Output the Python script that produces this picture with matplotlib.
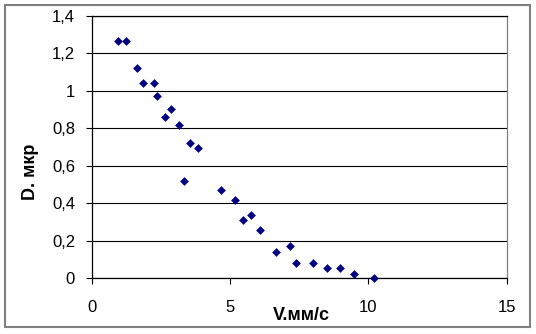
import matplotlib
matplotlib.use("Agg")
import matplotlib.pyplot as plt
from matplotlib.patches import Rectangle
from matplotlib.ticker import FuncFormatter

v_mm_s = [0.94, 1.25, 1.65, 1.85, 2.26, 2.36, 2.66, 2.86, 3.16, 3.35, 3.56, 3.85,
          4.67, 5.17, 5.47, 5.77, 6.07, 6.67, 7.17, 7.38, 7.99, 8.49, 8.98, 9.49, 10.19]
d_mkr = [1.265, 1.265, 1.12, 1.04, 1.04, 0.97, 0.86, 0.905, 0.815, 0.52, 0.72, 0.695,
         0.47, 0.415, 0.31, 0.335, 0.255, 0.14, 0.17, 0.08, 0.08, 0.055, 0.055, 0.02, 0.0]
x_ticks = [0, 5, 10, 15]
y_ticks = [0, 0.2, 0.4, 0.6, 0.8, 1.0, 1.2, 1.4]

plt.rcParams['font.family'] = ['Liberation Sans', 'DejaVu Sans']

fig = plt.figure(figsize=(5.36, 3.34), dpi=100)
W, H = 536, 334
ax = fig.add_axes([91.7 / W, 1 - 278.2 / H, (506.7 - 91.7) / W, (278.2 - 15.7) / H])

# outer frame
fig.patches.append(Rectangle((5 / W, 1 - 327 / H), (530 - 5) / W, (327 - 5) / H,
                             transform=fig.transFigure, fill=False,
                             edgecolor='#808080', linewidth=1.5))

ax.scatter(v_mm_s, d_mkr, marker='D', s=20, color='#000080', zorder=3, clip_on=False,
           linewidths=0)

ax.set_xlim(0, 15)
ax.set_ylim(0, 1.4)
ax.set_xticks(x_ticks)
ax.set_yticks(y_ticks)
ax.yaxis.set_major_formatter(FuncFormatter(lambda v, p: ('%g' % round(v, 1)).replace('.', ',')))
ax.xaxis.set_major_formatter(FuncFormatter(lambda v, p: '%g' % v))
ax.grid(axis='y', color='black', linewidth=0.8)
ax.set_axisbelow(True)

for s in ['left', 'bottom', 'top']:
    ax.spines[s].set_color('black')
    ax.spines[s].set_linewidth(0.9)
ax.spines['right'].set_color('#808080')
ax.spines['right'].set_linewidth(0.9)

ax.tick_params(axis='both', direction='out', length=4, width=0.8, color='black',
               labelsize=12)
ax.tick_params(axis='x', pad=12)
ax.tick_params(axis='y', pad=8)

ax.set_xlabel('V.мм/с', fontsize=13, fontweight='bold')
ax.xaxis.set_label_coords((301 - 91.7) / (506.7 - 91.7), -(316 - 278.2) / (278.2 - 15.7),)
ax.xaxis.label.set_verticalalignment('center')
ax.set_ylabel('D. мкр', fontsize=13, fontweight='bold')
ax.yaxis.set_label_coords(-(91.7 - 30) / (506.7 - 91.7), (278.2 - 172) / (278.2 - 15.7))
ax.yaxis.label.set_verticalalignment('center')

fig.savefig('out.png', dpi=100)
